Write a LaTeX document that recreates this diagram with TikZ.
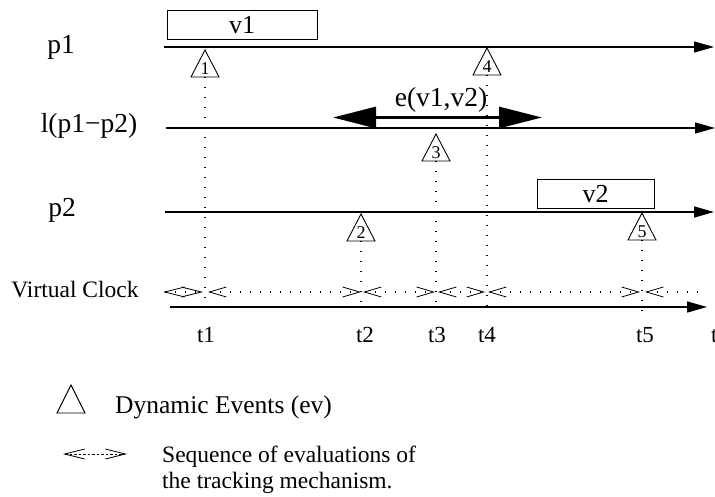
\documentclass[tikz,border=0pt]{standalone}
\usepackage{fontspec}
\setmainfont{Liberation Serif}
\usetikzlibrary{arrows.meta,calc}

% event marker: apex coordinate, outlined triangle, number inside
\newcommand\evmark[4]{%
  \coordinate (#1) at (#2,#3);
  \coordinate (#1b) at (#2,#3+27);
  \draw[evline] ($(#1)+(-14,27)$) -- (#1) -- ($(#1)+(14,27)$) -- cycle;
  \node[evnum] at ($(#1)+(0,19)$) {#4};
}

\begin{document}
\begin{tikzpicture}[x=1pt,y=-1pt,
  axis/.style={line width=1.3pt,-{Triangle[length=20pt,width=11pt]}},
  varbox/.style={draw,line width=1pt,inner sep=0pt,font=\fontsize{26}{26}\selectfont},
  rowlabel/.style={font=\fontsize{27.5}{27.5}\selectfont},
  evline/.style={line width=0.9pt,line join=miter},
  evnum/.style={font=\fontsize{18}{18}\selectfont,inner sep=0pt},
  vdots/.style={line width=1.3pt,dash pattern=on 1.3pt off 8.7pt},
  hdots/.style={line width=1.1pt,dash pattern=on 1.2pt off 8.8pt},
  barbs/.style={hdots,{Straight Barb[length=17pt,width=10pt,line width=0.8pt]}-{Straight Barb[length=17pt,width=10pt,line width=0.8pt]}},
  tlabel/.style={font=\fontsize{23}{23}\selectfont},
  legend/.style={font=\fontsize{25.5}{25.5}\selectfont,anchor=base west,inner sep=0pt}]

\useasboundingbox (0,0) rectangle (715,497);

% process and link rows
\node[rowlabel] (lp1) at (61,47) {p1};
\node[rowlabel] (ll) at (89,126) {l(p1−p2)};
\node[rowlabel] (lp2) at (62,210) {p2};

\coordinate (p1s) at (164,47);  \coordinate (p1e) at (714,47);
\coordinate (ls) at (166,128);  \coordinate (le) at (715,128);
\coordinate (p2s) at (165,212); \coordinate (p2e) at (714,212);
\draw[axis] (p1s) -- (p1e);
\draw[axis] (ls) -- (le);
\draw[axis] (p2s) -- (p2e);

% variables
\node[varbox,minimum width=150pt,minimum height=29pt] (v1) at (242,25.5) {v1};
\node[varbox,minimum width=117pt,minimum height=29pt] (v2) at (595.5,194) {v2};

% dependency between the variables
\coordinate (el) at (333,117.5);
\coordinate (er) at (542,117.5);
\draw[line width=3pt,{Triangle[length=43pt,width=21pt]}-{Triangle[length=43pt,width=21pt]}] (el) -- (er);
\node[rowlabel,inner sep=0pt] (elab) at (441,100) {e(v1,v2)};

% dynamic events
\evmark{ev1}{205}{50}{1}
\evmark{ev4}{487}{48}{4}
\evmark{ev3}{436}{134}{3}
\evmark{ev2}{361}{214}{2}
\evmark{ev5}{642}{213}{5}

% virtual clock
\node[font=\fontsize{23.5}{23.5}\selectfont] (lvc) at (75,290) {Virtual Clock};
\coordinate (cs) at (170,307); \coordinate (ce) at (707,307);
\draw[axis] (cs) -- (ce);

\coordinate (t1) at (205,306);
\coordinate (t2) at (361,306);
\coordinate (t3) at (436,306);
\coordinate (t4) at (487,306);
\coordinate (t5) at (642,314);

\draw[vdots] (ev1b) -- (t1);
\draw[vdots] (ev2b) -- (t2);
\draw[vdots] (ev3b) -- (t3);
\draw[vdots] (ev4b) -- (t4);
\draw[vdots] (ev5b) -- (t5);

% evaluations of the tracking mechanism
\coordinate (s0) at (163,292);
\coordinate (s1) at (203,292);
\coordinate (s1r) at (208,292);
\coordinate (s2) at (361,292);
\coordinate (s2r) at (363,292);
\coordinate (s3) at (435,292);
\coordinate (s3r) at (438,292);
\coordinate (s4) at (485,292);
\coordinate (s4r) at (488,292);
\coordinate (s5) at (640,292);
\coordinate (s5r) at (645,292);
\coordinate (s6) at (697,292);
\draw[barbs,{Straight Barb[length=20pt,width=10pt,line width=0.8pt]}-{Straight Barb[length=20pt,width=10pt,line width=0.8pt]}] (s0) -- (s1);
\draw[barbs] (s1r) -- (s2);
\draw[barbs] (s2r) -- (s3);
\draw[barbs] (s3r) -- (s4);
\draw[barbs] (s4r) -- (s5);
\draw[barbs,{Straight Barb[length=17pt,width=10pt,line width=0.8pt]}-] (s5r) -- (s6);

% tick labels
\node[tlabel] (lt1) at (206,335) {t1};
\node[tlabel] (lt2) at (365,335) {t2};
\node[tlabel] (lt3) at (437,335) {t3};
\node[tlabel] (lt4) at (487,335) {t4};
\node[tlabel] (lt5) at (645,335) {t5};
\node[tlabel,anchor=west,inner sep=0pt] (lt6) at (711,335) {t6};

% legend
\coordinate (lgt) at (71,385);
\draw[evline] ($(lgt)+(-14,28)$) -- (lgt) -- ($(lgt)+(14,28)$) -- cycle;
\node[legend] (lg1) at (115,413) {Dynamic Events (ev)};
\coordinate (la) at (63,454); \coordinate (lb) at (127,454);
\draw[line width=0.8pt,dash pattern=on 2.5pt off 2pt,{Straight Barb[length=20pt,width=10pt,line width=0.8pt]}-{Straight Barb[length=20pt,width=10pt,line width=0.8pt]}] (la) -- (lb);
\node[legend,font=\fontsize{23.5}{23.5}\selectfont] (lg2) at (162,462) {Sequence of evaluations of};
\node[legend,font=\fontsize{23.5}{23.5}\selectfont] (lg3) at (162,488) {the tracking mechanism.};
\end{tikzpicture}
\end{document}
